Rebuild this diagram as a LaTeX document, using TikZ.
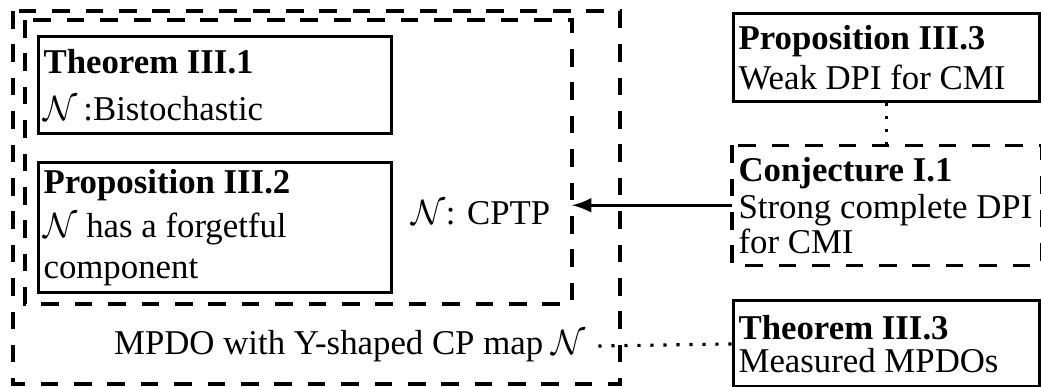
\documentclass[tikz,border=0pt]{standalone}
\usepackage{fontspec}
\setmainfont{Liberation Serif}
\usepackage{amssymb}
\usepackage{amsmath}
\usetikzlibrary{arrows,calc,positioning,fit}

\begin{document}
\begin{tikzpicture}[font=\fontsize{9.9}{11.5}\selectfont,
  res/.style={draw, line width=0.9pt, anchor=north west, align=flush left, inner xsep=0.05cm, inner ysep=0.02cm, text width=#1},
  dashbox/.style={line width=0.9pt, dash pattern=on 5pt off 4.5pt},
  dots/.style={line width=0.9pt, dash pattern=on 0.9pt off 2.8pt}]
\useasboundingbox (0,0) rectangle (10.41,3.86);
% the two dashed frames
\coordinate (O1) at (0.13,3.75);
\coordinate (O2) at (6.20,0.02);
\coordinate (I1) at (0.25,3.66);
\coordinate (I2) at (5.72,0.82);
\draw[dashbox] (O1) rectangle (O2);
\draw[dashbox] (I1) rectangle (I2);
% left column
\node[res=3.43cm, minimum height=0.97cm] (T1) at (0.37,3.51) {\textbf{Theorem III.1}\\[2pt] $\mathcal{N}$\,:Bistochastic};
\node[res=3.43cm, minimum height=1.30cm, below=0.26cm of T1.south west, anchor=north west] (P2) {\textbf{Proposition III.2}\\[1pt] $\mathcal{N}$ has a forgetful component};
\node (N) at (4.81,1.73) {$\mathcal{N}$: CPTP};
\node (M) at (3.50,0.40) {MPDO with Y-shaped CP map $\mathcal{N}$};
% right column
\node[res=2.96cm, minimum height=0.88cm] (P3) at (7.32,3.74) {\textbf{Proposition III.3}\\ Weak DPI for CMI};
\node[res=2.96cm, minimum height=1.17cm, draw=none, below=0.42cm of P3.south west, anchor=north west] (C1) {\textbf{Conjecture I.1}\\[-1pt] Strong complete DPI\\[-1.5pt] for CMI};
\draw[dashbox] (C1.north west) rectangle (C1.south east);
\node[res=2.96cm, minimum height=0.86cm, below=0.34cm of C1.south west, anchor=north west] (T3) {\textbf{Theorem III.3}\\[-2pt] Measured MPDOs};
% links
\draw[dots] (P3.south) -- (C1.north);
\draw[-latex, line width=0.9pt] (C1.west) -- (C1.west -| I2);
\draw[dots] (M.east) -- (T3.west);
\end{tikzpicture}
\end{document}
